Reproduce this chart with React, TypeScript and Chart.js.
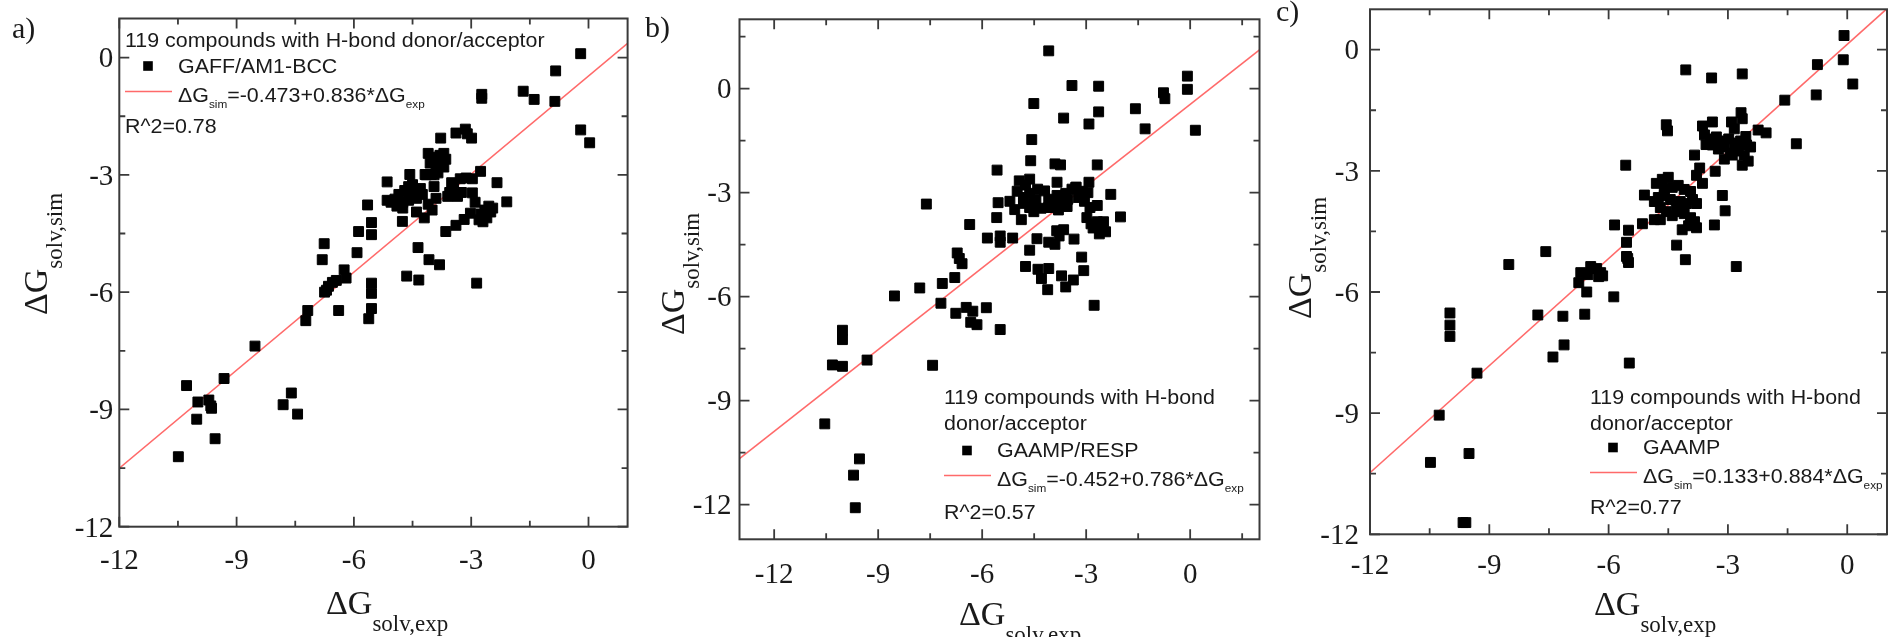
import React, { useEffect, useRef } from "react";
import { Chart, registerables } from "chart.js";

Chart.register(...registerables);

// ---------------- data ----------------
const panelLabels = ["a)", "b)", "c)"];
const seriesNames = ["GAFF/AM1-BCC", "GAAMP/RESP", "GAAMP"];
const legendTitles = [
  ["119 compounds with H-bond donor/acceptor"],
  ["119 compounds with H-bond", "donor/acceptor"],
  ["119 compounds with H-bond", "donor/acceptor"],
];
const fitIntercepts = [-0.473, -0.452, 0.133];
const fitSlopes = [0.836, 0.786, 0.884];
const rSquared = ["0.78", "0.57", "0.77"];
const majorTicks = [-12, -9, -6, -3, 0];
const minorTicks = [-10.5, -7.5, -4.5, -1.5, 1.5];
const axisRanges = [
  [-12, 1],
  [-13, 2],
  [-12, 1],
];
const xTitleMain = "ΔG";
const xTitleSub = "solv,exp";
const yTitleMain = "ΔG";
const yTitleSub = "solv,sim";

const gaffPoints: [number, number][] = [
  [-0.2, 0.1], [-0.84, -0.34], [-1.67, -0.86], [-1.39, -1.07], [-0.86, -1.12], [-2.73, -0.94], [-2.73, -1.04],
  [-0.2, -1.85], [0.03, -2.18], [-3.78, -2.06], [-3.39, -1.93], [-3.15, -1.83], [-2.99, -2.06], [-3.1, -1.95],
  [-4.1, -2.45], [-3.95, -2.55], [-3.8, -2.5], [-3.7, -2.45], [-4.05, -2.7], [-3.9, -2.75], [-3.75, -2.65],
  [-3.65, -2.6], [-3.7, -2.8], [-3.85, -2.95], [-4.15, -3.0], [-3.95, -3.0],
  [-5.15, -3.18], [-4.57, -2.99], [-4.18, -2.99], [-4.02, -2.99], [-3.28, -3.1], [-3.13, -3.08], [-2.97, -3.1],
  [-2.76, -2.91], [-2.34, -3.2], [-2.09, -3.69], [-2.97, -3.46],
  [-4.85, -3.5], [-4.7, -3.4], [-4.6, -3.3], [-4.5, -3.25], [-4.45, -3.4], [-4.75, -3.7], [-4.6, -3.65],
  [-4.4, -3.6], [-5.05, -3.7], [-4.9, -3.8], [-4.75, -3.85], [-4.55, -3.55], [-5.15, -3.65], [-4.95, -3.62],
  [-5.65, -3.77], [-5.55, -4.22], [-5.55, -4.53], [-5.88, -4.45], [-4.76, -4.19],
  [-4.4, -3.95], [-4.2, -4.1], [-4.0, -3.9], [-3.9, -3.6], [-4.1, -3.75],
  [-3.65, -4.45], [-3.39, -4.29], [-3.18, -4.14], [-3.02, -3.98],
  [-2.75, -4.0], [-2.65, -3.9], [-2.6, -4.1], [-2.55, -3.8], [-2.5, -3.95], [-2.7, -4.2], [-2.8, -4.15], [-2.45, -3.85],
  [-3.55, -3.45], [-3.45, -3.35], [-3.6, -3.55], [-3.35, -3.55], [-3.25, -3.45], [-3.5, -3.2],
  [-4.36, -4.86], [-4.08, -5.17], [-3.81, -5.3], [-5.92, -4.99], [-6.76, -4.76], [-6.81, -5.17],
  [-6.25, -5.43], [-6.2, -5.64],
  [-6.55, -5.75], [-6.65, -5.85], [-6.75, -6.0], [-6.7, -5.95], [-6.45, -5.7],
  [-4.65, -5.59], [-4.34, -5.69], [-2.86, -5.77],
  [-5.55, -5.77], [-5.55, -6.03], [-5.55, -6.42], [-5.62, -6.68],
  [-6.39, -6.47], [-7.18, -6.47], [-7.23, -6.73],
  [-8.53, -7.38], [-9.32, -8.21], [-10.28, -8.39],
  [-9.99, -8.81], [-9.71, -8.76], [-9.66, -8.91], [-9.64, -8.97],
  [-10.02, -9.25], [-9.55, -9.75], [-10.49, -10.21],
  [-7.81, -8.88], [-7.6, -8.58], [-7.44, -9.12],
  [-4.3, -3.35], [-4.25, -3.5], [-3.95, -3.3], [-2.9, -3.7],
];

const gaampRespPoints: [number, number][] = [
  [-4.08, 1.09], [-3.41, 0.09], [-2.64, 0.07], [-0.08, 0.36], [-0.08, -0.02], [-0.77, -0.12], [-0.73, -0.29],
  [-1.58, -0.58], [-1.3, -1.16], [0.15, -1.2],
  [-4.51, -0.43], [-3.65, -0.85], [-2.64, -0.67], [-2.92, -1.02], [-4.57, -1.47], [-4.6, -2.08], [-3.9, -2.17],
  [-3.74, -2.2], [-2.68, -2.2], [-5.57, -2.35], [-7.61, -3.33], [-2.92, -2.7], [-3.84, -2.7], [-2.29, -3.05], [-2.01, -3.7],
  [-4.93, -2.66], [-4.75, -2.78], [-4.63, -2.61], [-4.99, -2.96], [-4.81, -3.14], [-4.63, -3.02], [-4.45, -3.2],
  [-5.06, -3.49], [-4.81, -3.31], [-4.63, -3.43], [-4.51, -3.55], [-4.87, -3.78], [-4.51, -3.31],
  [-4.08, -3.19], [-3.84, -3.08], [-3.59, -3.02], [-3.41, -2.9], [-3.29, -2.84], [-3.11, -2.96], [-3.71, -3.31],
  [-3.53, -3.19], [-3.23, -3.14], [-3.05, -3.25], [-4.08, -3.43],
  [-5.54, -3.29], [-5.58, -3.72], [-6.36, -3.92], [-5.85, -4.31], [-5.48, -4.25], [-5.48, -4.43], [-5.12, -4.31],
  [-4.75, -5.13], [-4.63, -4.66], [-4.42, -4.33],
  [-4.08, -4.43], [-3.9, -4.49], [-3.78, -4.25], [-3.65, -4.07], [-3.35, -4.34],
  [-2.98, -3.72], [-2.86, -3.9], [-2.68, -3.84], [-2.56, -4.02], [-2.44, -4.13], [-2.62, -4.19], [-2.8, -4.02], [-2.5, -3.84],
  [-2.89, -3.43], [-2.68, -3.37], [-3.13, -4.86], [-3.07, -5.25], [-4.39, -5.21], [-4.29, -5.48], [-4.08, -5.19],
  [-4.11, -5.8], [-3.71, -5.4], [-3.37, -5.52], [-3.59, -5.72], [-2.77, -6.25],
  [-6.72, -4.74], [-6.66, -4.9], [-6.58, -5.05], [-6.79, -5.45], [-7.15, -5.62], [-7.8, -5.75], [-8.53, -5.98],
  [-7.19, -6.19], [-6.76, -6.48],
  [-6.46, -6.31], [-6.27, -6.42], [-6.15, -6.81], [-6.33, -6.74], [-5.88, -6.32], [-5.48, -6.95],
  [-7.43, -7.98], [-9.32, -7.83], [-10.03, -6.97], [-10.03, -7.24], [-10.32, -7.97], [-10.03, -8.01],
  [-10.54, -9.67], [-9.54, -10.68], [-9.71, -11.15], [-9.66, -12.09],
  [-4.3, -3.45], [-4.2, -2.95], [-3.95, -3.3], [-3.8, -3.5], [-3.55, -3.4], [-3.3, -2.85], [-2.95, -3.0],
  [-4.4, -2.9], [-5.2, -3.25], [-3.85, -4.1],
];

const gaampPoints: [number, number][] = [
  [-0.08, 0.35], [-0.1, -0.25], [0.14, -0.85], [-0.75, -0.37], [-0.78, -1.12], [-1.57, -1.25], [-1.28, -2.33],
  [-4.06, -0.5], [-3.41, -0.7], [-2.64, -0.6],
  [-4.55, -1.86], [-4.52, -2.01], [-3.39, -1.79], [-3.64, -1.89], [-2.91, -1.79], [-2.84, -1.96], [-2.67, -1.56],
  [-2.64, -1.71], [-2.24, -1.99], [-2.04, -2.06],
  [-3.59, -2.11], [-3.44, -2.21], [-3.29, -2.16], [-3.14, -2.26], [-2.98, -2.21], [-2.83, -2.31], [-2.68, -2.26],
  [-2.53, -2.36], [-2.43, -2.41], [-3.39, -2.36], [-3.24, -2.46], [-3.09, -2.41], [-2.94, -2.56], [-2.74, -2.51],
  [-2.59, -2.61], [-2.49, -2.76], [-2.64, -2.86], [-2.89, -2.61], [-3.44, -2.31], [-3.29, -2.31],
  [-3.84, -2.61], [-3.71, -2.93], [-3.32, -3.01], [-3.09, -2.71], [-5.57, -2.86],
  [-3.14, -3.61], [-3.07, -3.99], [-3.34, -4.34], [-3.64, -3.31], [-3.79, -3.11],
  [-4.8, -3.31], [-4.65, -3.21], [-4.5, -3.16], [-4.4, -3.41], [-4.25, -3.36], [-4.1, -3.46], [-3.94, -3.51],
  [-3.89, -3.71], [-3.79, -3.81], [-4.05, -3.81], [-4.2, -3.76], [-4.3, -3.86], [-4.45, -3.71], [-4.6, -3.61],
  [-4.75, -3.66], [-4.85, -3.76], [-4.7, -3.91], [-4.55, -4.01], [-4.4, -4.11], [-4.25, -4.01], [-4.1, -4.06],
  [-3.94, -4.16], [-3.84, -4.26], [-3.99, -4.36], [-3.79, -4.41], [-4.15, -4.46], [-4.7, -4.21], [-4.85, -4.21],
  [-5.1, -3.6], [-5.15, -4.31], [-5.85, -4.34],
  [-5.5, -4.47], [-5.55, -4.77], [-5.52, -5.17], [-5.5, -5.27], [-5.55, -5.12],
  [-4.29, -4.84], [-4.07, -5.2], [-2.79, -5.37],
  [-8.51, -5.32], [-7.58, -5.0],
  [-6.7, -5.52], [-6.75, -5.77], [-6.52, -5.57],
  [-6.45, -5.37], [-6.3, -5.42], [-6.2, -5.52], [-6.25, -5.62], [-6.15, -5.6],
  [-6.55, -6.0], [-5.87, -6.12],
  [-7.78, -6.57], [-7.15, -6.6], [-6.6, -6.55],
  [-7.12, -7.31], [-7.4, -7.61], [-5.48, -7.76],
  [-9.99, -6.52], [-9.99, -6.82], [-9.99, -7.1],
  [-9.31, -8.01], [-10.26, -9.05], [-9.51, -10.0], [-10.48, -10.22],
  [-9.66, -11.71], [-9.59, -11.71],
  [-4.6, -3.45], [-3.55, -2.35], [-2.55, -2.15],
];

const panelPoints = [gaffPoints, gaampRespPoints, gaampPoints];

// ---------------- layout / style ----------------
const W = 1895;
const H = 637;
const SERIF = "'Liberation Serif', 'Times New Roman', serif";
const SANS = "'Liberation Sans', Arial, sans-serif";
const TEXT = "#1a1a1a";
const FRAME = "#3a3a3a";
const FIT = "#ff6a6a";
const LEG_SX = 1.07;

const LAYOUT = [
  {
    frame: { l: 119.3, t: 18.5, r: 627.6, b: 526.7 },
    label: { x: 12, y: 38 },
    yTitle: { x: 47, cy: 254 },
    xTitle: { x: 326, y: 614 },
    xTickBase: 569,
    yTickGap: 6,
    legend: { x: 125, titles: [46.5], marker: 72.5, eq: 102, r2: 133 },
  },
  {
    frame: { l: 739.5, t: 19.3, r: 1259.5, b: 539.3 },
    label: { x: 645, y: 37 },
    yTitle: { x: 684, cy: 274 },
    xTitle: { x: 959, y: 625 },
    xTickBase: 583,
    yTickGap: 8,
    legend: { x: 944, titles: [404.3, 429.9], marker: 457, eq: 486, r2: 519 },
  },
  {
    frame: { l: 1370, t: 9.3, r: 1894, b: 534.3 },
    label: { x: 1276, y: 21 },
    yTitle: { x: 1311, cy: 258 },
    xTitle: { x: 1594, y: 615 },
    xTickBase: 574,
    yTickGap: 11,
    legend: { x: 1590, titles: [404, 429.6], marker: 454, eq: 483, r2: 513.6 },
  },
];

type Part = { s: string; font: string; dy: number };

function drawText(ctx: CanvasRenderingContext2D, s: string, x: number, y: number, font: string, align: CanvasTextAlign = "left", sx = 1) {
  ctx.save();
  ctx.font = font;
  ctx.textAlign = align;
  ctx.textBaseline = "alphabetic";
  ctx.translate(x, y);
  ctx.scale(sx, 1);
  ctx.fillText(s, 0, 0);
  ctx.restore();
}

function drawParts(ctx: CanvasRenderingContext2D, parts: Part[], x: number, y: number, sx = 1) {
  let cx = x;
  for (const p of parts) {
    ctx.save();
    ctx.font = p.font;
    ctx.textAlign = "left";
    ctx.textBaseline = "alphabetic";
    const w = ctx.measureText(p.s).width;
    ctx.translate(cx, y + p.dy);
    ctx.scale(sx, 1);
    ctx.fillText(p.s, 0, 0);
    ctx.restore();
    cx += w * sx;
  }
}

const decorPlugin = {
  id: "decor",
  afterDatasetsDraw(chart: any, _args: any, opts: any) {
    const i: number = opts.index;
    const L = LAYOUT[i];
    const ctx: CanvasRenderingContext2D = chart.ctx;
    const xs = chart.scales.x;
    const ys = chart.scales.y;
    const a = chart.chartArea;
    const [lo, hi] = axisRanges[i];
    ctx.save();
    ctx.fillStyle = TEXT;
    ctx.strokeStyle = FRAME;

    // ticks (inward, mirrored on all four sides)
    ctx.lineWidth = 1.8;
    const tickSets: [number[], number][] = [
      [majorTicks, 10],
      [minorTicks, 6],
    ];
    for (const [vals, len] of tickSets) {
      for (const v of vals) {
        if (v < lo || v > hi) continue;
        const px = xs.getPixelForValue(v);
        const py = ys.getPixelForValue(v);
        ctx.beginPath();
        ctx.moveTo(px, a.bottom);
        ctx.lineTo(px, a.bottom - len);
        ctx.moveTo(px, a.top);
        ctx.lineTo(px, a.top + len);
        ctx.moveTo(a.left, py);
        ctx.lineTo(a.left + len, py);
        ctx.moveTo(a.right, py);
        ctx.lineTo(a.right - len, py);
        ctx.stroke();
      }
    }
    // frame
    ctx.lineWidth = 2;
    ctx.strokeRect(a.left, a.top, a.right - a.left, a.bottom - a.top);

    // tick labels
    const tickFont = `29px ${SERIF}`;
    for (const v of majorTicks) {
      if (v < lo || v > hi) continue;
      drawText(ctx, String(v), xs.getPixelForValue(v), L.xTickBase, tickFont, "center");
      drawText(ctx, String(v), a.left - L.yTickGap, ys.getPixelForValue(v) + 9.8, tickFont, "right");
    }

    // axis titles
    const mainFont = `34px ${SERIF}`;
    const subFont = `23px ${SERIF}`;
    drawParts(
      ctx,
      [
        { s: xTitleMain, font: mainFont, dy: 0 },
        { s: xTitleSub, font: subFont, dy: 17 },
      ],
      L.xTitle.x,
      L.xTitle.y
    );
    ctx.save();
    ctx.font = mainFont;
    const wMain = ctx.measureText(yTitleMain).width;
    ctx.font = subFont;
    const wSub = ctx.measureText(yTitleSub).width;
    ctx.translate(L.yTitle.x, L.yTitle.cy);
    ctx.rotate(-Math.PI / 2);
    drawParts(
      ctx,
      [
        { s: yTitleMain, font: mainFont, dy: 0 },
        { s: yTitleSub, font: subFont, dy: 15 },
      ],
      -(wMain + wSub) / 2,
      0
    );
    ctx.restore();

    // panel label
    drawText(ctx, panelLabels[i], L.label.x, L.label.y, `30px ${SERIF}`);

    // legend
    const lg = L.legend;
    const legFont = `20px ${SANS}`;
    const legSub = `11px ${SANS}`;
    legendTitles[i].forEach((t, k) => drawText(ctx, t, lg.x, lg.titles[k], legFont, "left", LEG_SX));
    ctx.fillStyle = "#000";
    ctx.fillRect(lg.x + 23 - 4.8, lg.marker - 6.5 - 4.8, 9.6, 9.6);
    ctx.fillStyle = TEXT;
    drawText(ctx, seriesNames[i], lg.x + 53, lg.marker, legFont, "left", LEG_SX);
    ctx.strokeStyle = FIT;
    ctx.lineWidth = 1.6;
    ctx.beginPath();
    ctx.moveTo(lg.x, lg.eq - 10.5);
    ctx.lineTo(lg.x + 47, lg.eq - 10.5);
    ctx.stroke();
    const b = fitIntercepts[i];
    const m = fitSlopes[i];
    drawParts(
      ctx,
      [
        { s: "ΔG", font: legFont, dy: 0 },
        { s: "sim", font: legSub, dy: 6 },
        { s: `=${b.toFixed(3)}+${m.toFixed(3)}*ΔG`, font: legFont, dy: 0 },
        { s: "exp", font: legSub, dy: 6 },
      ],
      lg.x + 53,
      lg.eq,
      LEG_SX
    );
    drawText(ctx, `R^2=${rSquared[i]}`, lg.x, lg.r2, legFont, "left", LEG_SX);
    ctx.restore();
  },
};

function Panel({ index }: { index: number }) {
  const ref = useRef<HTMLCanvasElement | null>(null);
  useEffect(() => {
    const canvas = ref.current;
    if (!canvas) return;
    const L = LAYOUT[index];
    const [lo, hi] = axisRanges[index];
    const b = fitIntercepts[index];
    const m = fitSlopes[index];
    const chart = new Chart(canvas, {
      type: "scatter",
      data: {
        datasets: [
          {
            data: panelPoints[index].map(([x, y]) => ({ x, y })),
            pointStyle: "rect",
            pointRadius: 7,
            pointBorderWidth: 1,
            backgroundColor: "#000",
            borderColor: "#000",
            showLine: false,
          } as any,
          {
            type: "line",
            data: [
              { x: lo, y: b + m * lo },
              { x: hi, y: b + m * hi },
            ],
            borderColor: FIT,
            borderWidth: 1.6,
            pointRadius: 0,
            showLine: true,
            fill: false,
            tension: 0,
          } as any,
        ],
      },
      options: {
        responsive: false,
        animation: false,
        events: [],
        layout: {
          padding: { left: L.frame.l, top: L.frame.t, right: W - L.frame.r, bottom: H - L.frame.b },
        },
        scales: {
          x: { type: "linear", min: lo, max: hi, display: false },
          y: { type: "linear", min: lo, max: hi, display: false },
        },
        plugins: {
          legend: { display: false },
          tooltip: { enabled: false },
          decor: { index },
        } as any,
      },
      plugins: [decorPlugin],
    });
    return () => chart.destroy();
  }, [index]);
  return (
    <canvas
      ref={ref}
      width={W}
      height={H}
      style={{ position: "absolute", left: 0, top: 0, width: W, height: H }}
    />
  );
}

export default function App() {
  return (
    <div style={{ position: "absolute", left: 0, top: 0, width: W, height: H, background: "#fff", overflow: "hidden" }}>
      {[0, 1, 2].map((i) => (
        <Panel key={i} index={i} />
      ))}
    </div>
  );
}
